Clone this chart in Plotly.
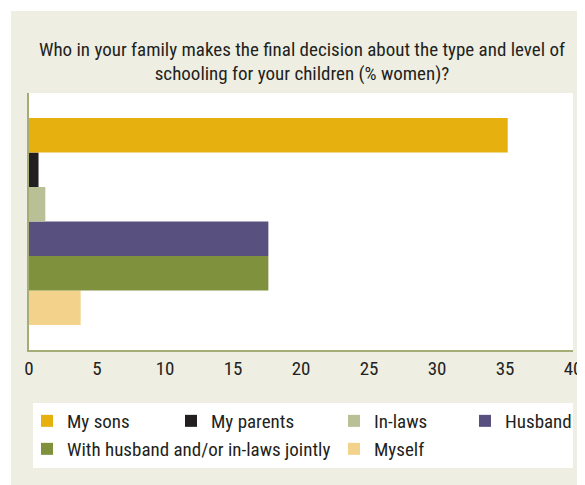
import plotly.graph_objects as go

# ---------------- data ----------------
categories = ["My sons", "My parents", "In-laws", "Husband",
              "With husband and/or in-laws jointly", "Myself"]
values = [35.2, 0.7, 1.2, 17.6, 17.6, 3.8]
colors = ["#E6B00F", "#231F20", "#BAC095", "#58507E", "#80913E", "#F3D38B"]
x_ticks = [0, 5, 10, 15, 20, 25, 30, 35, 40]
title_text = ("Who in your family makes the final decision about the type and level of"
              "<br>schooling for your children (% women)?")

# ---------------- geometry ----------------
FONT = "Roboto Condensed, Liberation Sans, sans-serif"
TXT = "#231F20"
OFF = 8                      # page body margin
W, H = 577, 477              # figure size (window 585x485 minus body margin)
ML, MR, MT, MB = 21, 12, 85, 135
PW, PH = W - ML - MR, H - MT - MB


def px(xw):                  # window pixel x -> paper x
    return (xw - OFF - ML) / PW


def py(yw):                  # window pixel y -> paper y
    return (H - MB - (yw - OFF)) / PH


# legend item origin (window px) and row centre
legend_pos = [(27, 421), (171, 421), (334, 421), (465, 421), (27, 449), (334, 449)]

fig = go.Figure()
# added in reverse so the first category is drawn on top
for i in reversed(range(len(categories))):
    lname = "legend" if i == 0 else f"legend{i+1}"
    fig.add_trace(go.Bar(
        y=["all"], x=[values[i]], name=categories[i], orientation="h",
        marker=dict(color=colors[i], line=dict(width=0)),
        legend=lname, showlegend=True, hoverinfo="x+name",
    ))

legends = {}
for i, (lx, ly) in enumerate(legend_pos):
    key = "legend" if i == 0 else f"legend{i+1}"
    legends[key] = dict(
        x=px(lx), y=py(ly), xanchor="left", yanchor="middle",
        xref="paper", yref="paper", bgcolor="rgba(0,0,0,0)", borderwidth=0,
        font=dict(family=FONT, size=19, color=TXT),
        orientation="h", itemclick=False, itemdoubleclick=False,
    )

shapes = [
    dict(type="rect", xref="paper", yref="paper", layer="below",
         x0=px(0), x1=px(11), y0=py(500), y1=py(0), fillcolor="white", line=dict(width=0)),
    dict(type="rect", xref="paper", yref="paper", layer="below",
         x0=px(0), x1=px(600), y0=py(11), y1=py(0), fillcolor="white", line=dict(width=0)),
    dict(type="rect", xref="paper", yref="paper", layer="below",
         x0=px(33), x1=px(573), y0=py(468), y1=py(403), fillcolor="white", line=dict(width=0)),
]

fig.update_layout(
    width=W, height=H,
    margin=dict(l=ML, r=MR, t=MT, b=MB, pad=0, autoexpand=False),
    paper_bgcolor="#EEEEE3", plot_bgcolor="white",
    barmode="group", bargap=0.195, bargroupgap=0,
    title=dict(text=title_text, x=px(302), xanchor="center",
               y=1 - (55.5 - OFF) / H, yanchor="middle", xref="paper", yref="container",
               font=dict(family=FONT, size=19, color=TXT)),
    font=dict(family=FONT, size=19, color=TXT),
    xaxis=dict(range=[0, 40], tickvals=x_ticks, showgrid=False, zeroline=False,
               showline=True, linecolor="#A5AD77", linewidth=2,
               ticks="", ticklen=0,
               tickfont=dict(family=FONT, size=19, color=TXT)),
    yaxis=dict(showticklabels=False, showgrid=False, zeroline=False,
               showline=True, linecolor="#A5AD77", linewidth=2, ticks=""),
    shapes=shapes,
    **legends,
)

fig.write_html("out.html")
